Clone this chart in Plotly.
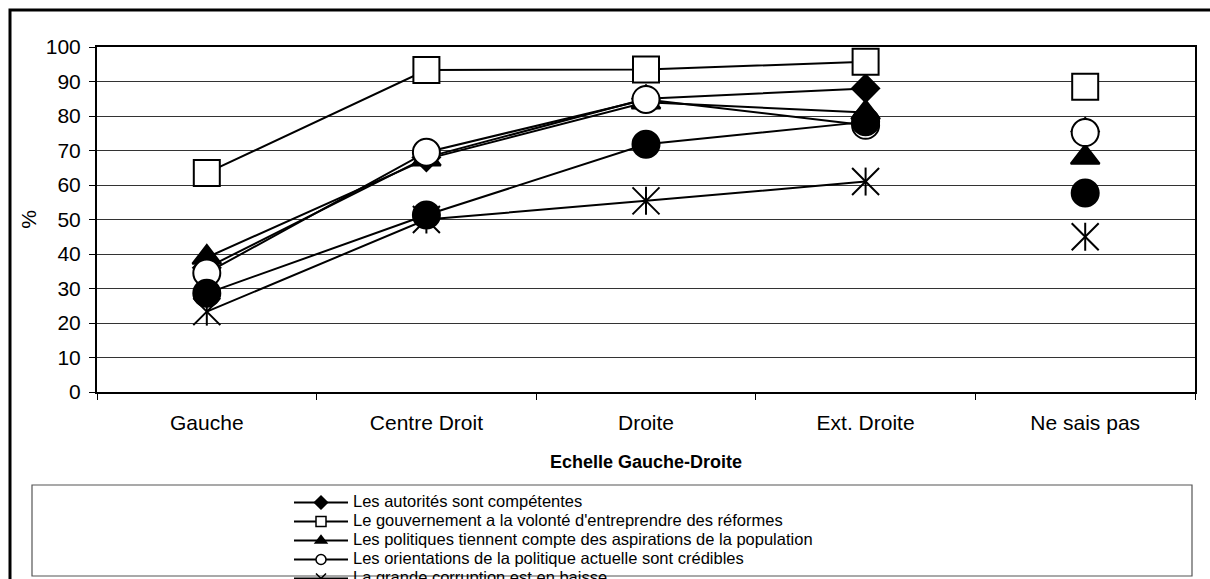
import plotly.graph_objects as go

categories = ["Gauche", "Centre Droit", "Droite", "Ext. Droite", "Ne sais pas"]

series_names = [
    "Les autorités sont compétentes",
    "Le gouvernement a la volonté d'entreprendre des réformes",
    "Les politiques tiennent compte des aspirations de la population",
    "Les orientations de la politique actuelle sont crédibles",
    "La grande corruption est en baisse",
    "La petite corruption est en baisse",
]

autorites = [36, 68, 85, 88, 75.5]
gouvernement = [63.5, 93.3, 93.5, 95.7, 88.5]
politiques = [39, 67.5, 84, 81, 68]
orientations = [34.5, 69.5, 84.8, 77.3, 75.2]
grande_corruption = [23.3, 50, 55.4, 61, 45]
petite_corruption = [28.6, 51.3, 71.8, 78.3, 57.7]

y_ticks = [0, 10, 20, 30, 40, 50, 60, 70, 80, 90, 100]

W, H = 1210, 579
ML, MR, MT, MB = 97, 15, 47, 187
PW, PH = W - ML - MR, H - MT - MB


def px_x(p):
    return (p - ML) / PW


def px_y(p):
    return (H - MB - p) / PH


FONT = "Liberation Sans, Arial, sans-serif"

styles = [
    dict(symbol="diamond", color="black", size=21),
    dict(symbol="square", color="white", size=26),
    dict(symbol="triangle-up", color="black", size=25),
    dict(symbol="circle", color="white", size=27),
    dict(symbol="x-thin-open", color="black", size=27),
    dict(symbol="circle", color="black", size=27),
]
values = [autorites, gouvernement, politiques, orientations, grande_corruption, petite_corruption]

fig = go.Figure()
for i, (name, vals, st) in enumerate(zip(series_names, values, styles)):
    marker = dict(symbol=st["symbol"], size=st["size"], color=st["color"],
                  line=dict(color="black", width=2))
    # legend entry (small symbol as in the original key)
    fig.add_trace(go.Scatter(
        x=[None], y=[None], mode="lines+markers",
        name='<span style="font-size:16.5px">' + name + "</span>",
        legendgroup=str(i), line=dict(color="black", width=2),
        marker=dict(symbol=st["symbol"], size=10, color=st["color"],
                    line=dict(color="black", width=1.5)),
        hoverinfo="skip"))
    fig.add_trace(go.Scatter(
        x=categories[:4], y=vals[:4], mode="lines+markers", showlegend=False,
        legendgroup=str(i), line=dict(color="black", width=2),
        marker=marker, hoverinfo="skip"))
    fig.add_trace(go.Scatter(
        x=categories[4:], y=vals[4:], mode="markers", showlegend=False,
        legendgroup=str(i), marker=marker, hoverinfo="skip"))
    if st["symbol"] == "x-thin-open":
        fig.add_trace(go.Scatter(
            x=categories, y=vals, mode="markers", showlegend=False,
            legendgroup=str(i), hoverinfo="skip",
            marker=dict(symbol="line-ns-open", size=20, color="black",
                        line=dict(color="black", width=2))))

fig.update_layout(
    width=W, height=H,
    margin=dict(l=ML, r=MR, t=MT, b=MB, autoexpand=False),
    paper_bgcolor="white", plot_bgcolor="white",
    font=dict(family=FONT, color="black", size=21),
    showlegend=True,
    legend=dict(x=px_x(289), y=px_y(488), xanchor="left", yanchor="top",
                bgcolor="rgba(0,0,0,0)", borderwidth=0,
                font=dict(family=FONT, size=12, color="black"),
                itemsizing="trace", itemwidth=54, tracegroupgap=0),
    xaxis=dict(type="category", range=[-0.5, 4.5], tickson="boundaries",
               ticks="outside", ticklen=6, tickwidth=1, tickcolor="black",
               showgrid=False, showline=True, linewidth=2, linecolor="black",
               mirror=True, ticklabelstandoff=11,
               tickfont=dict(family=FONT, size=21, color="black"),
               title=dict(text="<b>Echelle Gauche-Droite</b>", standoff=22,
                          font=dict(family=FONT, size=18, color="black"))),
    yaxis=dict(range=[0, 100], tickvals=y_ticks, ticks="outside", ticklen=6,
               tickwidth=1, tickcolor="black", showgrid=True,
               gridcolor="#333333", gridwidth=1, zeroline=False,
               showline=True, linewidth=2, linecolor="black", mirror=True,
               ticklabelstandoff=4,
               tickfont=dict(family=FONT, size=21, color="black"),
               title=dict(text="%", standoff=3,
                          font=dict(family=FONT, size=21, color="black"))),
    shapes=[
        dict(type="rect", xref="paper", yref="paper",
             x0=px_x(32), x1=px_x(1192), y0=px_y(576), y1=px_y(485),
             line=dict(color="#555555", width=1.2), fillcolor="rgba(0,0,0,0)",
             layer="below"),
        dict(type="rect", xref="paper", yref="paper",
             x0=px_x(10), x1=px_x(1240), y0=px_y(620), y1=px_y(10),
             line=dict(color="black", width=3), fillcolor="rgba(0,0,0,0)",
             layer="above"),
    ],
)

fig.write_html("out.html", config={"displayModeBar": False},
               post_script="document.body.style.margin='0';document.body.style.overflow='hidden';")
